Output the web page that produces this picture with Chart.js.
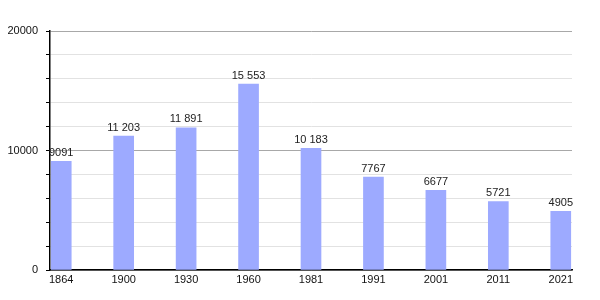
<!DOCTYPE html>
<html><head><meta charset="utf-8">
<script src="https://cdn.jsdelivr.net/npm/chart.js@4"></script>
<style>html,body{margin:0;padding:0;background:#fff}#c{display:block}</style>
</head><body>
<div style="width:600px;height:300px"><canvas id="c" width="600" height="300"></canvas></div>
<script>
const years = ['1864','1900','1930','1960','1981','1991','2001','2011','2021'];
const population = [9091, 11203, 11891, 15553, 10183, 7767, 6677, 5721, 4905];
const yTickLabels = [0, 10000, 20000];

function fmt(v){ return v >= 10000 ? String(v).replace(/\B(?=(\d{3})+(?!\d))/g, ' ') : String(v); }

const labelPlugin = {
  id: 'barLabels',
  afterDatasetsDraw(chart) {
    const ctx = chart.ctx;
    const meta = chart.getDatasetMeta(0);
    ctx.save();
    ctx.font = '11px "Liberation Sans", Arial, sans-serif';
    ctx.fillStyle = '#222';
    ctx.textAlign = 'center';
    ctx.textBaseline = 'bottom';
    meta.data.forEach((bar, i) => {
      ctx.fillText(fmt(population[i]), bar.x, bar.y - 3);
    });
    ctx.restore();
  }
};

new Chart(document.getElementById('c'), {
  type: 'bar',
  data: {
    datasets: [{
      data: population.map((v, i) => ({x: i, y: v})),
      backgroundColor: 'rgb(157,170,255)',
      borderWidth: 0,
      barThickness: 20
    }]
  },
  options: {
    responsive: false,
    animation: false,
    layout: {padding: {top: 31, right: 28, left: 0, bottom: 0}},
    plugins: {legend: {display: false}, tooltip: {enabled: false}},
    scales: {
      x: {
        type: 'linear',
        offset: false,
        min: -0.18, max: 8.18,
        afterBuildTicks: (s) => { s.ticks = years.map((_, i) => ({value: i})); },
        afterFit: (s) => { s.height = 30; },
        grid: {display: false, drawTicks: false, offset: false},
        border: {display: true, color: '#000', width: 1.5},
        ticks: {
          callback: (v) => years[v],
          color: '#111',
          font: {size: 11, family: '"Liberation Sans", Arial, sans-serif'},
          padding: 3,
          maxRotation: 0,
          autoSkip: false
        }
      },
      y: {
        min: 0, max: 20000,
        afterFit: (s) => { s.width = 50; },
        ticks: {
          stepSize: 2000,
          callback: (v) => yTickLabels.includes(v) ? String(v) : '',
          color: '#111',
          font: {size: 11, family: '"Liberation Sans", Arial, sans-serif'},
          padding: 8
        },
        grid: {
          color: (c) => (c.tick && c.tick.value % 10000 === 0) ? '#a8a8a8' : '#e2e2e2',
          tickColor: '#000',
          tickLength: 4,
          lineWidth: 1
        },
        border: {display: true, color: '#000', width: 1.5}
      }
    }
  },
  plugins: [labelPlugin]
});
</script>
</body></html>
